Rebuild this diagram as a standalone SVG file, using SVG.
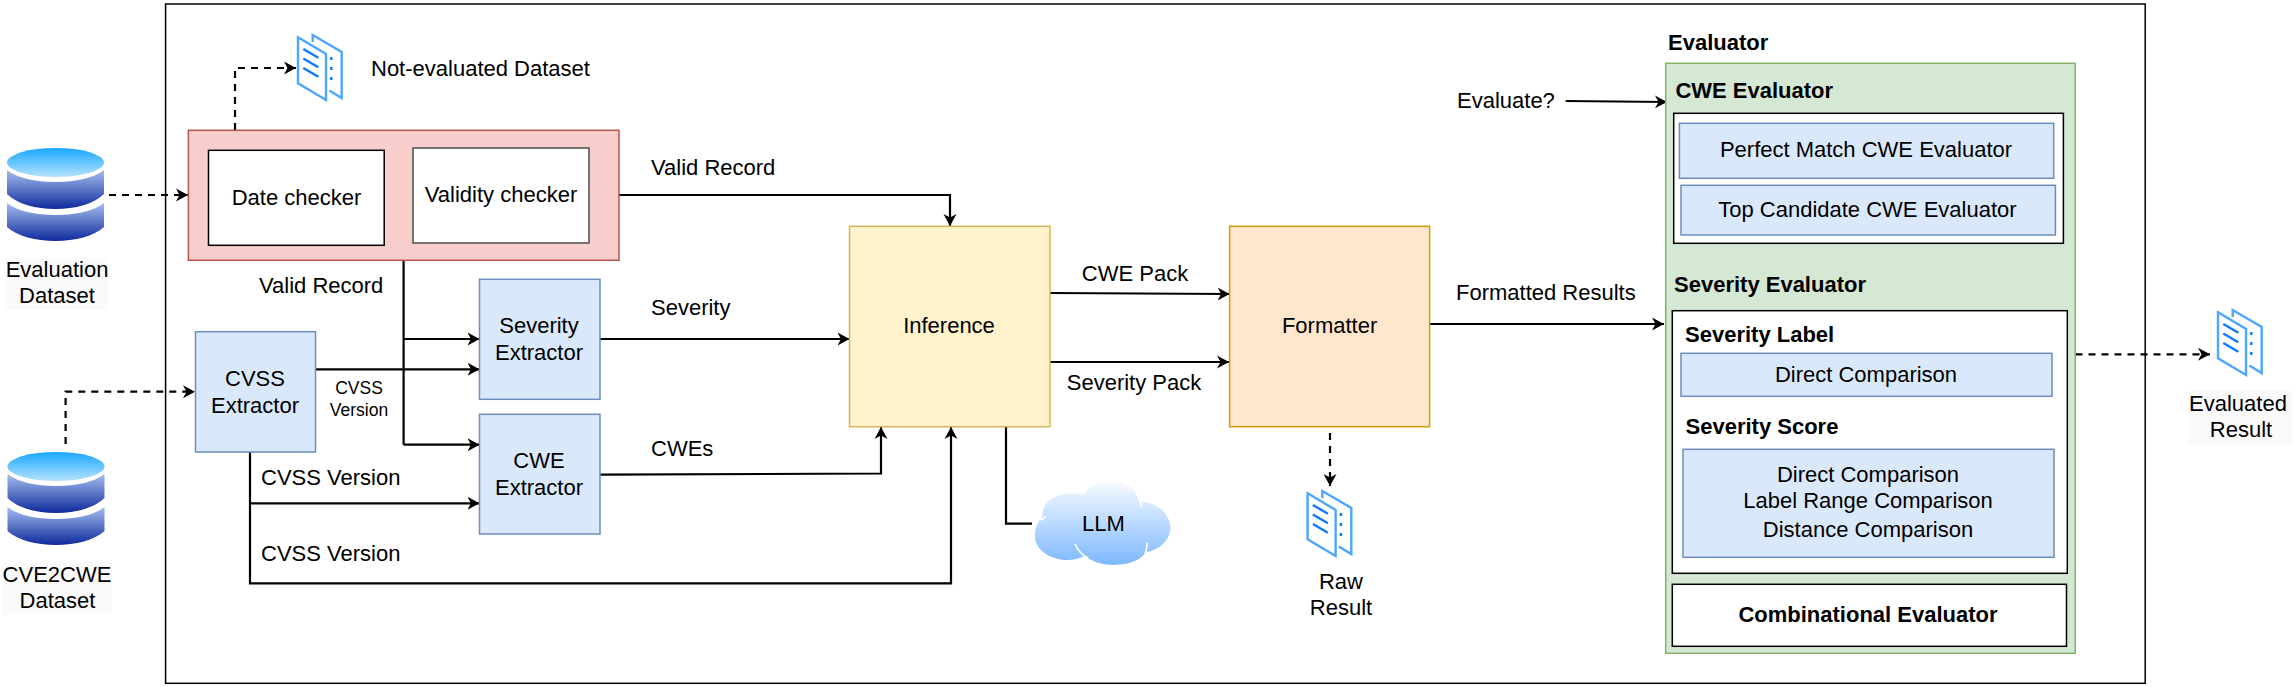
<svg xmlns="http://www.w3.org/2000/svg" width="2296" height="687" viewBox="0 0 2296 687">
<style>
text{font-family:"Liberation Sans",Arial,sans-serif;font-size:22px;fill:#000}
.m{text-anchor:middle}
.b{font-weight:bold}
.s{font-size:17.5px}
.blue{fill:#dae8fc;stroke:#6c8ebf;stroke-width:1.5}
.white{fill:#fff;stroke:#000;stroke-width:1.5}
.c{fill:none;stroke:#000;stroke-width:2.2}
.a{marker-end:url(#arrow)}
.d{stroke-dasharray:7 6}
</style>
<defs>
<marker id="arrow" markerUnits="userSpaceOnUse" markerWidth="14" markerHeight="16" refX="12" refY="7" orient="auto"><path d="M0 0.5L12 7L0 13.5L3.5 7Z" fill="#000"/></marker>
<linearGradient id="top" x1="0" y1="0" x2="0" y2="1"><stop offset="0" stop-color="#1aa7ff"/><stop offset="1" stop-color="#b5e3ff"/></linearGradient>
<linearGradient id="body" x1="0" y1="0" x2="0" y2="1"><stop offset="0" stop-color="#a4bfee"/><stop offset="1" stop-color="#0f2a9c"/></linearGradient>
<linearGradient id="cloud" x1="0" y1="0" x2="0" y2="1"><stop offset="0" stop-color="#f8fbff"/><stop offset="1" stop-color="#7db8ff"/></linearGradient>
<symbol id="cyl" overflow="visible">
<ellipse cx="48.5" cy="14.5" rx="48.5" ry="14.5" fill="url(#top)"/>
<path d="M0 22C10 30 28 34 48.5 34S87 30 97 22V46C87 56 68 61 48.5 61S10 56 0 46Z" fill="url(#body)"/>
<path d="M0 55C10 63 28 67 48.5 67S87 63 97 55V79C87 88 68 93 48.5 93S10 88 0 79Z" fill="url(#body)"/>
</symbol>
<symbol id="doc" overflow="visible">
<path d="M14.7 7V0L43.7 17V63L31.3 55.5" fill="none" stroke="#4da6ff" stroke-width="2.4"/>
<path d="M0 2.3L28 19V65L0 48.3Z" fill="#fff" stroke="#4da6ff" stroke-width="2.4"/>
<path d="M5.3 14L20.3 22.7M5.3 23.5L20.3 32.2M5.3 33L20.3 41.7" fill="none" stroke="#0b7aff" stroke-width="2.4"/>
<path d="M33.3 22v3M33.3 32v3M33.3 42v3" fill="none" stroke="#0b7aff" stroke-width="2.4"/>
</symbol>
</defs>

<rect id="frame" x="165.6" y="4" width="1979.6" height="679.3" fill="#fff" stroke="#000" stroke-width="1.5"/>

<g id="connectors">
<path class="c a d" d="M235 130V68H296"/>
<path class="c a d" d="M109 195H188"/>
<path class="c a d" d="M65.6 444V391.7H195"/>
<path class="c a" d="M619 195H950V226"/>
<path class="c" d="M403.6 260V444.7"/>
<path class="c a" d="M403.6 339H479.5"/>
<path class="c a" d="M403.6 444.7H479.5"/>
<path class="c a" d="M316 369.3H479.5"/>
<path class="c a" d="M250 452V583.3H951V427"/>
<path class="c a" d="M250 503.3H479.5"/>
<path class="c a" d="M600 339H849.5"/>
<path class="c a" d="M600 474.7L881 473.5V427"/>
<path class="c a" d="M1050 293L1229.6 294"/>
<path class="c a" d="M1049 362H1229"/>
<path class="c" d="M1006 427V523.7H1032"/>
<path class="c a d" d="M1330 433V486"/>
<path class="c a" d="M1565.7 101L1667 102"/>
<path class="c a" d="M1430 324H1664"/>
<path class="c a d" d="M2075.5 354.3H2210"/>
</g>

<g id="evaluation-dataset">
<rect x="5" y="257" width="103" height="53" fill="#fafafa"/>
<use href="#cyl" x="7" y="148"/>
<text class="m" x="57" y="276.5">Evaluation</text>
<text class="m" x="57" y="303">Dataset</text>
</g>
<g id="cve2cwe-dataset">
<rect x="3" y="562" width="109" height="53" fill="#fafafa"/>
<use href="#cyl" x="7.5" y="452"/>
<text class="m" x="57" y="581.5">CVE2CWE</text>
<text class="m" x="57.5" y="608">Dataset</text>
</g>
<g id="not-evaluated-dataset">
<use href="#doc" x="298" y="35"/>
<text x="371" y="75.5">Not-evaluated Dataset</text>
</g>
<g id="checker">
<rect x="188.4" y="130.3" width="430.6" height="130" fill="#f8cecc" stroke="#b85450" stroke-width="1.5"/>
<rect class="white" x="208.5" y="150.3" width="175.7" height="95"/>
<text class="m" x="296.5" y="204.5">Date checker</text>
<rect x="413" y="148" width="176" height="95" fill="#fff" stroke="#666" stroke-width="1.8"/>
<text class="m" x="501" y="201.5">Validity checker</text>
</g>
<g id="cvss-extractor">
<rect class="blue" x="195.5" y="331.7" width="120" height="120.3"/>
<text class="m" x="255" y="385.5">CVSS</text>
<text class="m" x="255" y="412.5">Extractor</text>
</g>
<g id="severity-extractor">
<rect class="blue" x="479.5" y="279.3" width="120.5" height="120"/>
<text class="m" x="539" y="333">Severity</text>
<text class="m" x="539" y="360">Extractor</text>
</g>
<g id="cwe-extractor">
<rect class="blue" x="479.5" y="414.3" width="120.5" height="119.7"/>
<text class="m" x="539" y="467.5">CWE</text>
<text class="m" x="539" y="494.5">Extractor</text>
</g>
<g id="inference">
<rect x="849.5" y="226.3" width="200.5" height="200.4" fill="#fff2cc" stroke="#d6b656" stroke-width="1.5"/>
<text class="m" x="949" y="332.5">Inference</text>
</g>
<g id="formatter">
<rect x="1229.6" y="226.3" width="200" height="200.4" fill="#ffe6cc" stroke="#d79b00" stroke-width="1.5"/>
<text class="m" x="1329.6" y="332.5">Formatter</text>
</g>
<g id="llm">
<g transform="translate(1025 475) scale(.3333)">
<path d="M52 125C50 70 110 45 178 58C195 12 300 2 335 56C345 68 350 80 350 80C410 85 440 130 436 165C432 200 400 225 362 232C340 275 230 285 178 242C130 270 50 250 32 200C25 170 35 145 52 125Z" fill="url(#cloud)"/>
<path d="M150 207C158 225 170 240 190 250M366 203C367 215 365 225 360 236M335 56C342 68 347 82 350 96M62 124C58 130 52 134 45 135" fill="none" stroke="#fff" stroke-width="5"/>
</g>
<text class="m" x="1103.5" y="531">LLM</text>
</g>
<g id="raw-result">
<use href="#doc" x="1307.6" y="491"/>
<text class="m" x="1341" y="588.5">Raw</text>
<text class="m" x="1341" y="615">Result</text>
</g>
<g id="evaluated-result">
<rect x="2189" y="390" width="103" height="54" fill="#fafafa"/>
<use href="#doc" x="2218" y="310"/>
<text class="m" x="2238" y="411">Evaluated</text>
<text class="m" x="2241" y="437">Result</text>
</g>
<g id="edge-labels">
<text x="651" y="174.5">Valid Record</text>
<text x="259" y="292.5">Valid Record</text>
<text x="651" y="315">Severity</text>
<text x="651" y="455.5">CWEs</text>
<text class="m" x="1135" y="280.5">CWE Pack</text>
<text class="m" x="1134" y="389.5">Severity Pack</text>
<text x="1456" y="300">Formatted Results</text>
<text x="1457" y="107.5">Evaluate?</text>
<text x="261" y="485">CVSS Version</text>
<text x="261" y="560.5">CVSS Version</text>
<text class="m s" x="359" y="393.5">CVSS</text>
<text class="m s" x="359" y="416">Version</text>
</g>
<g id="evaluator">
<text class="b" x="1668" y="50">Evaluator</text>
<rect x="1665.7" y="63.3" width="409.5" height="590" fill="#d5e8d4" stroke="#82b366" stroke-width="1.5"/>
</g>
<g id="cwe-evaluator">
<text class="b" x="1675.4" y="98">CWE Evaluator</text>
<rect class="white" x="1673.7" y="113.3" width="389.7" height="130"/>
<rect class="blue" x="1679.4" y="123.3" width="374.3" height="55"/>
<text class="m" x="1866" y="156.5">Perfect Match CWE Evaluator</text>
<rect class="blue" x="1681" y="185.3" width="374.4" height="49.7"/>
<text class="m" x="1867.4" y="217">Top Candidate CWE Evaluator</text>
</g>
<g id="severity-evaluator">
<text class="b" x="1674" y="291.5">Severity Evaluator</text>
<rect class="white" x="1672.3" y="310.7" width="395" height="262.6"/>
<text class="b" x="1685" y="342">Severity Label</text>
<rect class="blue" x="1681" y="353.3" width="371" height="43"/>
<text class="m" x="1866" y="382">Direct Comparison</text>
<text class="b" x="1685.5" y="434">Severity Score</text>
<rect class="blue" x="1683" y="449.3" width="371" height="108"/>
<text class="m" x="1868" y="482">Direct Comparison</text>
<text class="m" x="1868" y="508">Label Range Comparison</text>
<text class="m" x="1868" y="537">Distance Comparison</text>
</g>
<g id="combinational-evaluator">
<rect class="white" x="1672.3" y="584.3" width="394.2" height="62"/>
<text class="m b" x="1868" y="622">Combinational Evaluator</text>
</g>
</svg>
